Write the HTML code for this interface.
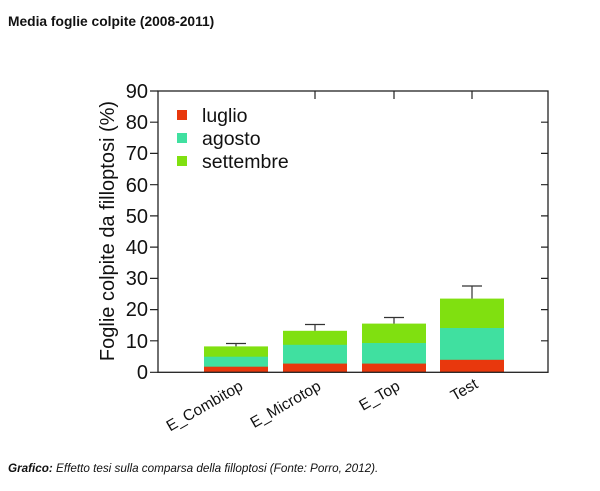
<!DOCTYPE html>
<html><head><meta charset="utf-8"><style>
body{margin:0;background:#fff;}
svg{display:block;}
</style></head><body>
<svg width="600" height="491" viewBox="0 0 600 491" xmlns="http://www.w3.org/2000/svg" font-family="Liberation Sans, sans-serif">
<text x="8" y="26" font-size="13.8" font-weight="bold" fill="#111">Media foglie colpite (2008-2011)</text>
<g>
<rect x="204" y="346.4" width="64" height="26" fill="#80e010"/>
<rect x="204" y="356.7" width="64" height="15.6" fill="#40e0a0"/>
<rect x="204" y="366.7" width="64" height="5.6" fill="#e8380d"/>
<rect x="283" y="330.8" width="64" height="41.5" fill="#80e010"/>
<rect x="283" y="344.8" width="64" height="27.5" fill="#40e0a0"/>
<rect x="283" y="363.6" width="64" height="8.7" fill="#e8380d"/>
<rect x="362" y="323.6" width="64" height="48.7" fill="#80e010"/>
<rect x="362" y="343" width="64" height="29.3" fill="#40e0a0"/>
<rect x="362" y="363.6" width="64" height="8.7" fill="#e8380d"/>
<rect x="440" y="298.6" width="64" height="73.7" fill="#80e010"/>
<rect x="440" y="328" width="64" height="44.3" fill="#40e0a0"/>
<rect x="440" y="359.8" width="64" height="12.5" fill="#e8380d"/>
</g>
<g stroke="#333" stroke-width="1.2" fill="none">
<path d="M236 346.4V343.5M226 343.5H246"/>
<path d="M315 330.8V324.5M305 324.5H325"/>
<path d="M394 323.6V317.5M384 317.5H404"/>
<path d="M472 298.6V286M462 286H482"/>
</g>
<rect x="158" y="91" width="390" height="281.3" fill="none" stroke="#222" stroke-width="1.3"/>
<g stroke="#222" stroke-width="1.2">
<path d="M150 91H158M150 122.2H158M150 153.4H158M150 184.7H158M150 215.9H158M150 247.1H158M150 278.4H158M150 309.6H158M150 340.8H158M150 372.3H158"/>
<path d="M541 122.2H548M541 153.4H548M541 184.7H548M541 215.9H548M541 247.1H548M541 278.4H548M541 309.6H548M541 340.8H548"/>
<path d="M315 91V99M394 91V99M472 91V99"/>
</g>
<g font-size="20" text-anchor="end" fill="#111">
<text x="148" y="98">90</text><text x="148" y="129">80</text><text x="148" y="160">70</text>
<text x="148" y="192">60</text><text x="148" y="223">50</text><text x="148" y="254">40</text>
<text x="148" y="285">30</text><text x="148" y="316">20</text><text x="148" y="348">10</text>
<text x="148" y="379">0</text>
</g>
<text transform="translate(114,231) rotate(-90)" font-size="20" text-anchor="middle" fill="#111">Foglie colpite da filloptosi (%)</text>
<rect x="177" y="110" width="10" height="10" fill="#e8380d"/>
<rect x="177" y="133" width="10" height="10" fill="#40e0a0"/>
<rect x="177" y="156" width="10" height="10" fill="#80e010"/>
<g font-size="19.5" fill="#111">
<text x="202" y="122">luglio</text><text x="202" y="145">agosto</text><text x="202" y="168">settembre</text>
</g>
<g font-size="15.5" text-anchor="end" fill="#111">
<text transform="translate(244,389) rotate(-30)">E_Combitop</text>
<text transform="translate(322,389) rotate(-30)">E_Microtop</text>
<text transform="translate(401,389) rotate(-30)">E_Top</text>
<text transform="translate(479,387) rotate(-30)">Test</text>
</g>
<text x="8" y="472" font-size="11.7" font-style="italic" fill="#111"><tspan font-weight="bold">Grafico:</tspan> Effetto tesi sulla comparsa della filloptosi (Fonte: Porro, 2012).</text>
</svg>
</body></html>
